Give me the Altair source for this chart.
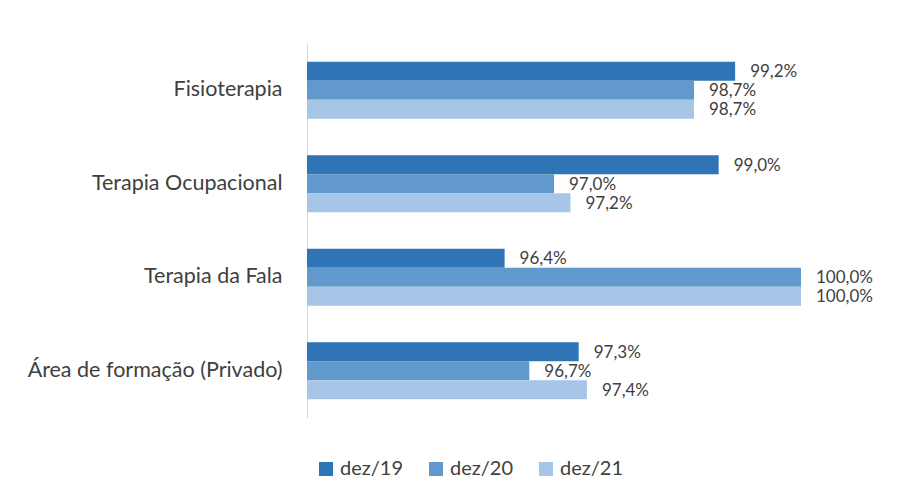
import altair as alt
import pandas as pd

categories = ["Fisioterapia", "Terapia Ocupacional", "Terapia da Fala", "Área de formação (Privado)"]
series = ["dez/19", "dez/20", "dez/21"]
values = {
    "dez/19": [99.2, 99.0, 96.4, 97.3],
    "dez/20": [98.7, 97.0, 100.0, 96.7],
    "dez/21": [98.7, 97.2, 100.0, 97.4],
}
colors = ["#2f75b5", "#6199cd", "#a6c5e7"]

rows = []
for s in series:
    for c, v in zip(categories, values[s]):
        rows.append({"cat": c, "serie": s, "val": v,
                     "label": f"{v:.1f}%".replace(".", ",")})
df = pd.DataFrame(rows)

FONT = "Lato"

base = alt.Chart(df).encode(
    y=alt.Y("cat:N", sort=categories, title=None,
            scale=alt.Scale(paddingInner=0.39, paddingOuter=0.2),
            axis=alt.Axis(ticks=False, domainColor="#d9d9d9", labelPadding=25,
                          labelFontSize=21.5, labelColor="#404040", labelFont=FONT,
                          labelLimit=400)),
    yOffset=alt.YOffset("serie:N", sort=series),
)

bars = base.mark_bar().encode(
    x=alt.X("val:Q", scale=alt.Scale(domain=[94, 100], zero=False, clamp=True), axis=None),
    x2=alt.datum(94),
    color=alt.Color("serie:N", sort=series,
                    scale=alt.Scale(domain=series, range=colors),
                    legend=alt.Legend(title=None, orient="none", direction="horizontal",
                                      legendX=9, legendY=416, symbolType="square",
                                      symbolSize=196, symbolStrokeWidth=0,
                                      labelFontSize=20, labelColor="#404040",
                                      labelFont=FONT, columnPadding=22, labelOffset=4)),
)

text = base.mark_text(align="left", baseline="middle", dx=15, dy=1, fontSize=17,
                      color="#404040", font=FONT).encode(
    x=alt.X("val:Q"),
    text="label:N",
)

chart = (bars + text).properties(
    width=494, height=375,
    autosize=alt.AutoSizeParams(type="none"),
    padding={"left": 299, "top": 35, "right": 92, "bottom": 76},
).configure(background="white").configure_view(stroke=None, strokeWidth=0)

chart.save("out.html", embed_options={"renderer": "svg", "actions": False})
